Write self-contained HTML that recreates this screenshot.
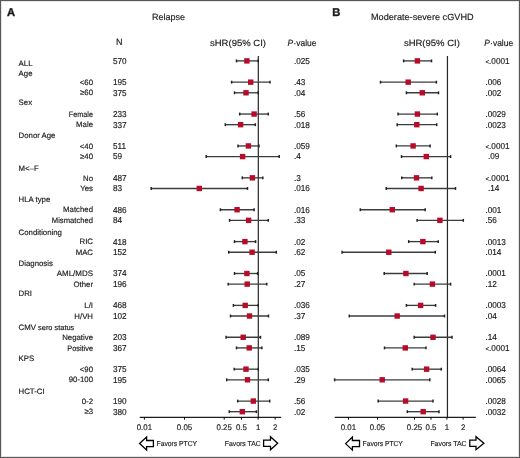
<!DOCTYPE html>
<html><head><meta charset="utf-8"><style>
html,body{margin:0;padding:0;background:#fff;}
body{width:520px;height:458px;overflow:hidden;}
.frame{position:absolute;left:0;top:0;width:518px;height:456px;border:1px solid #585858;box-shadow:inset 0 0 0 1px rgba(0,0,0,0.10);}
svg{position:absolute;left:0;top:0;filter:blur(0.3px);}
svg text{font-family:"Liberation Sans", sans-serif;fill:#1a1a1a;stroke:#1a1a1a;stroke-width:0.16px;text-rendering:geometricPrecision;}
</style></head><body>
<div class="frame"></div>
<svg width="520" height="458" viewBox="0 0 520 458">
<text x="18.60" y="65.78" font-size="7.8" text-anchor="start" font-weight="normal" >ALL</text>
<text x="112.90" y="63.80" font-size="8.6" text-anchor="start" font-weight="normal"  transform="matrix(0.955,0,0,1,5.081,0)">570</text>
<text x="18.60" y="75.51" font-size="7.8" text-anchor="start" font-weight="normal" >Age</text>
<text x="93.00" y="84.84" font-size="7.8" text-anchor="end" font-weight="normal" >&lt;60</text>
<text x="112.90" y="85.06" font-size="8.6" text-anchor="start" font-weight="normal"  transform="matrix(0.955,0,0,1,5.081,0)">195</text>
<text x="93.00" y="95.47" font-size="7.8" text-anchor="end" font-weight="normal" >≥60</text>
<text x="112.90" y="95.69" font-size="8.6" text-anchor="start" font-weight="normal"  transform="matrix(0.955,0,0,1,5.081,0)">375</text>
<text x="18.60" y="104.70" font-size="7.8" text-anchor="start" font-weight="normal" >Sex</text>
<text x="93.00" y="116.73" font-size="7.8" text-anchor="end" font-weight="normal"  transform="matrix(0.93,0,0,1,6.510,0)">Female</text>
<text x="112.90" y="116.95" font-size="8.6" text-anchor="start" font-weight="normal"  transform="matrix(0.955,0,0,1,5.081,0)">233</text>
<text x="93.00" y="127.36" font-size="7.8" text-anchor="end" font-weight="normal" >Male</text>
<text x="112.90" y="127.58" font-size="8.6" text-anchor="start" font-weight="normal"  transform="matrix(0.955,0,0,1,5.081,0)">337</text>
<text x="18.60" y="138.19" font-size="7.8" text-anchor="start" font-weight="normal" >Donor Age</text>
<text x="93.00" y="148.62" font-size="7.8" text-anchor="end" font-weight="normal" >&lt;40</text>
<text x="112.90" y="148.84" font-size="8.6" text-anchor="start" font-weight="normal"  transform="matrix(0.955,0,0,1,5.081,0)">511</text>
<text x="93.00" y="159.25" font-size="7.8" text-anchor="end" font-weight="normal" >≥40</text>
<text x="112.90" y="159.47" font-size="8.6" text-anchor="start" font-weight="normal"  transform="matrix(0.955,0,0,1,5.081,0)">59</text>
<text x="18.60" y="170.88" font-size="7.8" text-anchor="start" font-weight="normal" >M&lt;–F</text>
<text x="93.00" y="180.51" font-size="7.8" text-anchor="end" font-weight="normal" >No</text>
<text x="112.90" y="180.73" font-size="8.6" text-anchor="start" font-weight="normal"  transform="matrix(0.955,0,0,1,5.081,0)">487</text>
<text x="93.00" y="191.14" font-size="7.8" text-anchor="end" font-weight="normal" >Yes</text>
<text x="112.90" y="191.36" font-size="8.6" text-anchor="start" font-weight="normal"  transform="matrix(0.955,0,0,1,5.081,0)">83</text>
<text x="18.60" y="202.37" font-size="7.8" text-anchor="start" font-weight="normal" >HLA type</text>
<text x="93.00" y="212.40" font-size="7.8" text-anchor="end" font-weight="normal" >Matched</text>
<text x="112.90" y="212.62" font-size="8.6" text-anchor="start" font-weight="normal"  transform="matrix(0.955,0,0,1,5.081,0)">486</text>
<text x="93.00" y="223.03" font-size="7.8" text-anchor="end" font-weight="normal"  transform="matrix(0.98,0,0,1,1.860,0)">Mismatched</text>
<text x="112.90" y="223.25" font-size="8.6" text-anchor="start" font-weight="normal"  transform="matrix(0.955,0,0,1,5.081,0)">84</text>
<text x="18.60" y="234.66" font-size="7.8" text-anchor="start" font-weight="normal" >Conditioning</text>
<text x="93.00" y="244.29" font-size="7.8" text-anchor="end" font-weight="normal" >RIC</text>
<text x="112.90" y="244.51" font-size="8.6" text-anchor="start" font-weight="normal"  transform="matrix(0.955,0,0,1,5.081,0)">418</text>
<text x="93.00" y="254.92" font-size="7.8" text-anchor="end" font-weight="normal" >MAC</text>
<text x="112.90" y="255.14" font-size="8.6" text-anchor="start" font-weight="normal"  transform="matrix(0.955,0,0,1,5.081,0)">152</text>
<text x="18.60" y="265.85" font-size="7.8" text-anchor="start" font-weight="normal" >Diagnosis</text>
<text x="93.00" y="276.18" font-size="7.8" text-anchor="end" font-weight="normal"  transform="matrix(1.02,0,0,1,-1.860,0)">AML/MDS</text>
<text x="112.90" y="276.40" font-size="8.6" text-anchor="start" font-weight="normal"  transform="matrix(0.955,0,0,1,5.081,0)">374</text>
<text x="93.00" y="286.81" font-size="7.8" text-anchor="end" font-weight="normal" >Other</text>
<text x="112.90" y="287.03" font-size="8.6" text-anchor="start" font-weight="normal"  transform="matrix(0.955,0,0,1,5.081,0)">196</text>
<text x="18.60" y="296.04" font-size="7.8" text-anchor="start" font-weight="normal" >DRI</text>
<text x="93.00" y="308.07" font-size="7.8" text-anchor="end" font-weight="normal" >L/I</text>
<text x="112.90" y="308.29" font-size="8.6" text-anchor="start" font-weight="normal"  transform="matrix(0.955,0,0,1,5.081,0)">468</text>
<text x="93.00" y="318.70" font-size="7.8" text-anchor="end" font-weight="normal" >H/VH</text>
<text x="112.90" y="318.92" font-size="8.6" text-anchor="start" font-weight="normal"  transform="matrix(0.955,0,0,1,5.081,0)">102</text>
<text x="18.60" y="329.98" font-size="7.8" text-anchor="start" font-weight="normal" >CMV <tspan font-size="7.4">sero status</tspan></text>
<text x="93.00" y="339.96" font-size="7.8" text-anchor="end" font-weight="normal" >Negative</text>
<text x="112.90" y="340.18" font-size="8.6" text-anchor="start" font-weight="normal"  transform="matrix(0.955,0,0,1,5.081,0)">203</text>
<text x="93.00" y="350.59" font-size="7.8" text-anchor="end" font-weight="normal"  transform="matrix(0.94,0,0,1,5.580,0)">Positive</text>
<text x="112.90" y="350.81" font-size="8.6" text-anchor="start" font-weight="normal"  transform="matrix(0.955,0,0,1,5.081,0)">367</text>
<text x="18.60" y="360.92" font-size="7.8" text-anchor="start" font-weight="normal" >KPS</text>
<text x="93.00" y="371.85" font-size="7.8" text-anchor="end" font-weight="normal" >&lt;90</text>
<text x="112.90" y="372.07" font-size="8.6" text-anchor="start" font-weight="normal"  transform="matrix(0.955,0,0,1,5.081,0)">375</text>
<text x="93.00" y="382.48" font-size="7.8" text-anchor="end" font-weight="normal" >90-100</text>
<text x="112.90" y="382.70" font-size="8.6" text-anchor="start" font-weight="normal"  transform="matrix(0.955,0,0,1,5.081,0)">195</text>
<text x="18.60" y="393.61" font-size="7.8" text-anchor="start" font-weight="normal" >HCT-CI</text>
<text x="93.00" y="403.74" font-size="7.8" text-anchor="end" font-weight="normal" >0-2</text>
<text x="112.90" y="403.96" font-size="8.6" text-anchor="start" font-weight="normal"  transform="matrix(0.955,0,0,1,5.081,0)">190</text>
<text x="93.00" y="414.37" font-size="7.8" text-anchor="end" font-weight="normal" >≥3</text>
<text x="112.90" y="414.59" font-size="8.6" text-anchor="start" font-weight="normal"  transform="matrix(0.955,0,0,1,5.081,0)">380</text>
<line x1="258.3" y1="56" x2="258.3" y2="417.4" stroke="#262626" stroke-width="1.2"/>
<line x1="139.7" y1="417.4" x2="281.2" y2="417.4" stroke="#1e1e1e" stroke-width="1.3"/>
<line x1="144.4" y1="417.4" x2="144.4" y2="419.6" stroke="#000" stroke-width="1"/>
<text x="144.40" y="430.30" font-size="8.1" text-anchor="middle" font-weight="normal"  transform="matrix(0.97,0,0,1,4.332,0)">0.01</text>
<line x1="184.5" y1="417.4" x2="184.5" y2="419.6" stroke="#000" stroke-width="1"/>
<text x="184.50" y="430.30" font-size="8.1" text-anchor="middle" font-weight="normal"  transform="matrix(0.97,0,0,1,5.535,0)">0.05</text>
<line x1="224.2" y1="417.4" x2="224.2" y2="419.6" stroke="#000" stroke-width="1"/>
<text x="224.20" y="430.30" font-size="8.1" text-anchor="middle" font-weight="normal"  transform="matrix(0.97,0,0,1,6.726,0)">0.25</text>
<line x1="241.4" y1="417.4" x2="241.4" y2="419.6" stroke="#000" stroke-width="1"/>
<text x="241.40" y="430.30" font-size="8.1" text-anchor="middle" font-weight="normal"  transform="matrix(0.97,0,0,1,7.242,0)">0.5</text>
<line x1="258.1" y1="417.4" x2="258.1" y2="419.6" stroke="#000" stroke-width="1"/>
<text x="258.10" y="430.30" font-size="8.1" text-anchor="middle" font-weight="normal"  transform="matrix(0.97,0,0,1,7.743,0)">1</text>
<line x1="275.2" y1="417.4" x2="275.2" y2="419.6" stroke="#000" stroke-width="1"/>
<text x="275.20" y="430.30" font-size="8.1" text-anchor="middle" font-weight="normal"  transform="matrix(0.97,0,0,1,8.256,0)">2</text>
<line x1="447.45" y1="56" x2="447.45" y2="417.4" stroke="#262626" stroke-width="1.2"/>
<line x1="334.7" y1="417.4" x2="475.8" y2="417.4" stroke="#1e1e1e" stroke-width="1.3"/>
<line x1="348.4" y1="417.4" x2="348.4" y2="419.6" stroke="#000" stroke-width="1"/>
<text x="348.40" y="430.30" font-size="8.1" text-anchor="middle" font-weight="normal"  transform="matrix(0.97,0,0,1,10.452,0)">0.01</text>
<line x1="377.5" y1="417.4" x2="377.5" y2="419.6" stroke="#000" stroke-width="1"/>
<text x="377.50" y="430.30" font-size="8.1" text-anchor="middle" font-weight="normal"  transform="matrix(0.97,0,0,1,11.325,0)">0.05</text>
<line x1="414.5" y1="417.4" x2="414.5" y2="419.6" stroke="#000" stroke-width="1"/>
<text x="414.50" y="430.30" font-size="8.1" text-anchor="middle" font-weight="normal"  transform="matrix(0.97,0,0,1,12.435,0)">0.25</text>
<line x1="431.0" y1="417.4" x2="431.0" y2="419.6" stroke="#000" stroke-width="1"/>
<text x="431.00" y="430.30" font-size="8.1" text-anchor="middle" font-weight="normal"  transform="matrix(0.97,0,0,1,12.930,0)">0.5</text>
<line x1="446.9" y1="417.4" x2="446.9" y2="419.6" stroke="#000" stroke-width="1"/>
<text x="446.90" y="430.30" font-size="8.1" text-anchor="middle" font-weight="normal"  transform="matrix(0.97,0,0,1,13.407,0)">1</text>
<line x1="463.1" y1="417.4" x2="463.1" y2="419.6" stroke="#000" stroke-width="1"/>
<text x="463.10" y="430.30" font-size="8.1" text-anchor="middle" font-weight="normal"  transform="matrix(0.97,0,0,1,13.893,0)">2</text>
<line x1="236.50" y1="60.90" x2="258.20" y2="60.90" stroke="#3c3c3c" stroke-width="1.35"/>
<line x1="236.50" y1="59.45" x2="236.50" y2="62.35" stroke="#222" stroke-width="1.5"/>
<line x1="258.20" y1="59.45" x2="258.20" y2="62.35" stroke="#222" stroke-width="1.5"/>
<rect x="244.20" y="58.20" width="5.4" height="5.4" fill="#b70b29"/>
<text x="293.90" y="63.80" font-size="8.6" text-anchor="start" font-weight="normal"  transform="matrix(0.955,0,0,1,13.226,0)">.025</text>
<line x1="231.60" y1="82.16" x2="270.00" y2="82.16" stroke="#3c3c3c" stroke-width="1.35"/>
<line x1="231.60" y1="80.71" x2="231.60" y2="83.61" stroke="#222" stroke-width="1.5"/>
<line x1="270.00" y1="80.71" x2="270.00" y2="83.61" stroke="#222" stroke-width="1.5"/>
<rect x="248.00" y="79.46" width="5.4" height="5.4" fill="#b70b29"/>
<text x="293.90" y="85.06" font-size="8.6" text-anchor="start" font-weight="normal"  transform="matrix(0.955,0,0,1,13.226,0)">.43</text>
<line x1="234.50" y1="92.79" x2="258.20" y2="92.79" stroke="#3c3c3c" stroke-width="1.35"/>
<line x1="234.50" y1="91.34" x2="234.50" y2="94.24" stroke="#222" stroke-width="1.5"/>
<line x1="258.20" y1="91.34" x2="258.20" y2="94.24" stroke="#222" stroke-width="1.5"/>
<rect x="243.30" y="90.09" width="5.4" height="5.4" fill="#b70b29"/>
<text x="293.90" y="95.69" font-size="8.6" text-anchor="start" font-weight="normal"  transform="matrix(0.955,0,0,1,13.226,0)">.04</text>
<line x1="239.70" y1="114.05" x2="268.30" y2="114.05" stroke="#3c3c3c" stroke-width="1.35"/>
<line x1="239.70" y1="112.60" x2="239.70" y2="115.50" stroke="#222" stroke-width="1.5"/>
<line x1="268.30" y1="112.60" x2="268.30" y2="115.50" stroke="#222" stroke-width="1.5"/>
<rect x="251.40" y="111.35" width="5.4" height="5.4" fill="#b70b29"/>
<text x="293.90" y="116.95" font-size="8.6" text-anchor="start" font-weight="normal"  transform="matrix(0.955,0,0,1,13.226,0)">.56</text>
<line x1="225.30" y1="124.68" x2="255.30" y2="124.68" stroke="#3c3c3c" stroke-width="1.35"/>
<line x1="225.30" y1="123.23" x2="225.30" y2="126.13" stroke="#222" stroke-width="1.5"/>
<line x1="255.30" y1="123.23" x2="255.30" y2="126.13" stroke="#222" stroke-width="1.5"/>
<rect x="237.90" y="121.98" width="5.4" height="5.4" fill="#b70b29"/>
<text x="293.90" y="127.58" font-size="8.6" text-anchor="start" font-weight="normal"  transform="matrix(0.955,0,0,1,13.226,0)">.018</text>
<line x1="238.00" y1="145.94" x2="259.00" y2="145.94" stroke="#3c3c3c" stroke-width="1.35"/>
<line x1="238.00" y1="144.49" x2="238.00" y2="147.39" stroke="#222" stroke-width="1.5"/>
<line x1="259.00" y1="144.49" x2="259.00" y2="147.39" stroke="#222" stroke-width="1.5"/>
<rect x="245.70" y="143.24" width="5.4" height="5.4" fill="#b70b29"/>
<text x="293.90" y="148.84" font-size="8.6" text-anchor="start" font-weight="normal"  transform="matrix(0.955,0,0,1,13.226,0)">.059</text>
<line x1="206.20" y1="156.57" x2="279.20" y2="156.57" stroke="#3c3c3c" stroke-width="1.35"/>
<line x1="206.20" y1="155.12" x2="206.20" y2="158.02" stroke="#222" stroke-width="1.5"/>
<line x1="279.20" y1="155.12" x2="279.20" y2="158.02" stroke="#222" stroke-width="1.5"/>
<rect x="239.90" y="153.87" width="5.4" height="5.4" fill="#b70b29"/>
<text x="293.90" y="159.47" font-size="8.6" text-anchor="start" font-weight="normal"  transform="matrix(0.955,0,0,1,13.226,0)">.4</text>
<line x1="242.30" y1="177.83" x2="262.80" y2="177.83" stroke="#3c3c3c" stroke-width="1.35"/>
<line x1="242.30" y1="176.38" x2="242.30" y2="179.28" stroke="#222" stroke-width="1.5"/>
<line x1="262.80" y1="176.38" x2="262.80" y2="179.28" stroke="#222" stroke-width="1.5"/>
<rect x="249.70" y="175.13" width="5.4" height="5.4" fill="#b70b29"/>
<text x="293.90" y="180.73" font-size="8.6" text-anchor="start" font-weight="normal"  transform="matrix(0.955,0,0,1,13.226,0)">.3</text>
<line x1="151.20" y1="188.46" x2="247.50" y2="188.46" stroke="#3c3c3c" stroke-width="1.35"/>
<line x1="151.20" y1="187.01" x2="151.20" y2="189.91" stroke="#222" stroke-width="1.5"/>
<line x1="247.50" y1="187.01" x2="247.50" y2="189.91" stroke="#222" stroke-width="1.5"/>
<rect x="196.60" y="185.76" width="5.4" height="5.4" fill="#b70b29"/>
<text x="293.90" y="191.36" font-size="8.6" text-anchor="start" font-weight="normal"  transform="matrix(0.955,0,0,1,13.226,0)">.016</text>
<line x1="220.40" y1="209.72" x2="254.10" y2="209.72" stroke="#3c3c3c" stroke-width="1.35"/>
<line x1="220.40" y1="208.27" x2="220.40" y2="211.17" stroke="#222" stroke-width="1.5"/>
<line x1="254.10" y1="208.27" x2="254.10" y2="211.17" stroke="#222" stroke-width="1.5"/>
<rect x="234.40" y="207.02" width="5.4" height="5.4" fill="#b70b29"/>
<text x="293.90" y="212.62" font-size="8.6" text-anchor="start" font-weight="normal"  transform="matrix(0.955,0,0,1,13.226,0)">.016</text>
<line x1="229.60" y1="220.35" x2="268.30" y2="220.35" stroke="#3c3c3c" stroke-width="1.35"/>
<line x1="229.60" y1="218.90" x2="229.60" y2="221.80" stroke="#222" stroke-width="1.5"/>
<line x1="268.30" y1="218.90" x2="268.30" y2="221.80" stroke="#222" stroke-width="1.5"/>
<rect x="245.90" y="217.65" width="5.4" height="5.4" fill="#b70b29"/>
<text x="293.90" y="223.25" font-size="8.6" text-anchor="start" font-weight="normal"  transform="matrix(0.955,0,0,1,13.226,0)">.33</text>
<line x1="234.50" y1="241.61" x2="255.60" y2="241.61" stroke="#3c3c3c" stroke-width="1.35"/>
<line x1="234.50" y1="240.16" x2="234.50" y2="243.06" stroke="#222" stroke-width="1.5"/>
<line x1="255.60" y1="240.16" x2="255.60" y2="243.06" stroke="#222" stroke-width="1.5"/>
<rect x="242.20" y="238.91" width="5.4" height="5.4" fill="#b70b29"/>
<text x="293.90" y="244.51" font-size="8.6" text-anchor="start" font-weight="normal"  transform="matrix(0.955,0,0,1,13.226,0)">.02</text>
<line x1="228.70" y1="252.24" x2="276.30" y2="252.24" stroke="#3c3c3c" stroke-width="1.35"/>
<line x1="228.70" y1="250.79" x2="228.70" y2="253.69" stroke="#222" stroke-width="1.5"/>
<line x1="276.30" y1="250.79" x2="276.30" y2="253.69" stroke="#222" stroke-width="1.5"/>
<rect x="249.40" y="249.54" width="5.4" height="5.4" fill="#b70b29"/>
<text x="293.90" y="255.14" font-size="8.6" text-anchor="start" font-weight="normal"  transform="matrix(0.955,0,0,1,13.226,0)">.62</text>
<line x1="234.50" y1="273.50" x2="257.60" y2="273.50" stroke="#3c3c3c" stroke-width="1.35"/>
<line x1="234.50" y1="272.05" x2="234.50" y2="274.95" stroke="#222" stroke-width="1.5"/>
<line x1="257.60" y1="272.05" x2="257.60" y2="274.95" stroke="#222" stroke-width="1.5"/>
<rect x="244.20" y="270.80" width="5.4" height="5.4" fill="#b70b29"/>
<text x="293.90" y="276.40" font-size="8.6" text-anchor="start" font-weight="normal"  transform="matrix(0.955,0,0,1,13.226,0)">.05</text>
<line x1="228.20" y1="284.13" x2="266.80" y2="284.13" stroke="#3c3c3c" stroke-width="1.35"/>
<line x1="228.20" y1="282.68" x2="228.20" y2="285.58" stroke="#222" stroke-width="1.5"/>
<line x1="266.80" y1="282.68" x2="266.80" y2="285.58" stroke="#222" stroke-width="1.5"/>
<rect x="244.50" y="281.43" width="5.4" height="5.4" fill="#b70b29"/>
<text x="293.90" y="287.03" font-size="8.6" text-anchor="start" font-weight="normal"  transform="matrix(0.955,0,0,1,13.226,0)">.27</text>
<line x1="233.40" y1="305.39" x2="258.20" y2="305.39" stroke="#3c3c3c" stroke-width="1.35"/>
<line x1="233.40" y1="303.94" x2="233.40" y2="306.84" stroke="#222" stroke-width="1.5"/>
<line x1="258.20" y1="303.94" x2="258.20" y2="306.84" stroke="#222" stroke-width="1.5"/>
<rect x="242.50" y="302.69" width="5.4" height="5.4" fill="#b70b29"/>
<text x="293.90" y="308.29" font-size="8.6" text-anchor="start" font-weight="normal"  transform="matrix(0.955,0,0,1,13.226,0)">.036</text>
<line x1="230.50" y1="316.02" x2="268.50" y2="316.02" stroke="#3c3c3c" stroke-width="1.35"/>
<line x1="230.50" y1="314.57" x2="230.50" y2="317.47" stroke="#222" stroke-width="1.5"/>
<line x1="268.50" y1="314.57" x2="268.50" y2="317.47" stroke="#222" stroke-width="1.5"/>
<rect x="246.80" y="313.32" width="5.4" height="5.4" fill="#b70b29"/>
<text x="293.90" y="318.92" font-size="8.6" text-anchor="start" font-weight="normal"  transform="matrix(0.955,0,0,1,13.226,0)">.37</text>
<line x1="226.10" y1="337.28" x2="260.50" y2="337.28" stroke="#3c3c3c" stroke-width="1.35"/>
<line x1="226.10" y1="335.83" x2="226.10" y2="338.73" stroke="#222" stroke-width="1.5"/>
<line x1="260.50" y1="335.83" x2="260.50" y2="338.73" stroke="#222" stroke-width="1.5"/>
<rect x="240.50" y="334.58" width="5.4" height="5.4" fill="#b70b29"/>
<text x="293.90" y="340.18" font-size="8.6" text-anchor="start" font-weight="normal"  transform="matrix(0.955,0,0,1,13.226,0)">.089</text>
<line x1="236.50" y1="347.91" x2="261.90" y2="347.91" stroke="#3c3c3c" stroke-width="1.35"/>
<line x1="236.50" y1="346.46" x2="236.50" y2="349.36" stroke="#222" stroke-width="1.5"/>
<line x1="261.90" y1="346.46" x2="261.90" y2="349.36" stroke="#222" stroke-width="1.5"/>
<rect x="246.50" y="345.21" width="5.4" height="5.4" fill="#b70b29"/>
<text x="293.90" y="350.81" font-size="8.6" text-anchor="start" font-weight="normal"  transform="matrix(0.955,0,0,1,13.226,0)">.15</text>
<line x1="234.20" y1="369.17" x2="258.20" y2="369.17" stroke="#3c3c3c" stroke-width="1.35"/>
<line x1="234.20" y1="367.72" x2="234.20" y2="370.62" stroke="#222" stroke-width="1.5"/>
<line x1="258.20" y1="367.72" x2="258.20" y2="370.62" stroke="#222" stroke-width="1.5"/>
<rect x="243.30" y="366.47" width="5.4" height="5.4" fill="#b70b29"/>
<text x="293.90" y="372.07" font-size="8.6" text-anchor="start" font-weight="normal"  transform="matrix(0.955,0,0,1,13.226,0)">.035</text>
<line x1="226.70" y1="379.80" x2="268.30" y2="379.80" stroke="#3c3c3c" stroke-width="1.35"/>
<line x1="226.70" y1="378.35" x2="226.70" y2="381.25" stroke="#222" stroke-width="1.5"/>
<line x1="268.30" y1="378.35" x2="268.30" y2="381.25" stroke="#222" stroke-width="1.5"/>
<rect x="244.80" y="377.10" width="5.4" height="5.4" fill="#b70b29"/>
<text x="293.90" y="382.70" font-size="8.6" text-anchor="start" font-weight="normal"  transform="matrix(0.955,0,0,1,13.226,0)">.29</text>
<line x1="237.70" y1="401.06" x2="269.70" y2="401.06" stroke="#3c3c3c" stroke-width="1.35"/>
<line x1="237.70" y1="399.61" x2="237.70" y2="402.51" stroke="#222" stroke-width="1.5"/>
<line x1="269.70" y1="399.61" x2="269.70" y2="402.51" stroke="#222" stroke-width="1.5"/>
<rect x="250.60" y="398.36" width="5.4" height="5.4" fill="#b70b29"/>
<text x="293.90" y="403.96" font-size="8.6" text-anchor="start" font-weight="normal"  transform="matrix(0.955,0,0,1,13.226,0)">.56</text>
<line x1="229.30" y1="411.69" x2="256.40" y2="411.69" stroke="#3c3c3c" stroke-width="1.35"/>
<line x1="229.30" y1="410.24" x2="229.30" y2="413.14" stroke="#222" stroke-width="1.5"/>
<line x1="256.40" y1="410.24" x2="256.40" y2="413.14" stroke="#222" stroke-width="1.5"/>
<rect x="239.60" y="408.99" width="5.4" height="5.4" fill="#b70b29"/>
<text x="293.90" y="414.59" font-size="8.6" text-anchor="start" font-weight="normal"  transform="matrix(0.955,0,0,1,13.226,0)">.02</text>
<line x1="403.60" y1="60.90" x2="431.50" y2="60.90" stroke="#3c3c3c" stroke-width="1.35"/>
<line x1="403.60" y1="59.45" x2="403.60" y2="62.35" stroke="#222" stroke-width="1.5"/>
<line x1="431.50" y1="59.45" x2="431.50" y2="62.35" stroke="#222" stroke-width="1.5"/>
<rect x="414.70" y="58.20" width="5.4" height="5.4" fill="#b70b29"/>
<text x="485.40" y="63.80" font-size="8.6" text-anchor="start" font-weight="normal"  transform="matrix(0.955,0,0,1,21.843,0)"><tspan font-size="6.6">&lt;</tspan>.0001</text>
<line x1="380.50" y1="82.16" x2="436.40" y2="82.16" stroke="#3c3c3c" stroke-width="1.35"/>
<line x1="380.50" y1="80.71" x2="380.50" y2="83.61" stroke="#222" stroke-width="1.5"/>
<line x1="436.40" y1="80.71" x2="436.40" y2="83.61" stroke="#222" stroke-width="1.5"/>
<rect x="405.50" y="79.46" width="5.4" height="5.4" fill="#b70b29"/>
<text x="485.40" y="85.06" font-size="8.6" text-anchor="start" font-weight="normal"  transform="matrix(0.955,0,0,1,21.843,0)">.006</text>
<line x1="406.40" y1="92.79" x2="438.50" y2="92.79" stroke="#3c3c3c" stroke-width="1.35"/>
<line x1="406.40" y1="91.34" x2="406.40" y2="94.24" stroke="#222" stroke-width="1.5"/>
<line x1="438.50" y1="91.34" x2="438.50" y2="94.24" stroke="#222" stroke-width="1.5"/>
<rect x="419.60" y="90.09" width="5.4" height="5.4" fill="#b70b29"/>
<text x="485.40" y="95.69" font-size="8.6" text-anchor="start" font-weight="normal"  transform="matrix(0.955,0,0,1,21.843,0)">.002</text>
<line x1="398.10" y1="114.05" x2="437.30" y2="114.05" stroke="#3c3c3c" stroke-width="1.35"/>
<line x1="398.10" y1="112.60" x2="398.10" y2="115.50" stroke="#222" stroke-width="1.5"/>
<line x1="437.30" y1="112.60" x2="437.30" y2="115.50" stroke="#222" stroke-width="1.5"/>
<rect x="414.70" y="111.35" width="5.4" height="5.4" fill="#b70b29"/>
<text x="485.40" y="116.95" font-size="8.6" text-anchor="start" font-weight="normal"  transform="matrix(0.955,0,0,1,21.843,0)">.0029</text>
<line x1="397.20" y1="124.68" x2="436.70" y2="124.68" stroke="#3c3c3c" stroke-width="1.35"/>
<line x1="397.20" y1="123.23" x2="397.20" y2="126.13" stroke="#222" stroke-width="1.5"/>
<line x1="436.70" y1="123.23" x2="436.70" y2="126.13" stroke="#222" stroke-width="1.5"/>
<rect x="414.10" y="121.98" width="5.4" height="5.4" fill="#b70b29"/>
<text x="485.40" y="127.58" font-size="8.6" text-anchor="start" font-weight="normal"  transform="matrix(0.955,0,0,1,21.843,0)">.0023</text>
<line x1="396.30" y1="145.94" x2="430.10" y2="145.94" stroke="#3c3c3c" stroke-width="1.35"/>
<line x1="396.30" y1="144.49" x2="396.30" y2="147.39" stroke="#222" stroke-width="1.5"/>
<line x1="430.10" y1="144.49" x2="430.10" y2="147.39" stroke="#222" stroke-width="1.5"/>
<rect x="410.40" y="143.24" width="5.4" height="5.4" fill="#b70b29"/>
<text x="485.40" y="148.84" font-size="8.6" text-anchor="start" font-weight="normal"  transform="matrix(0.955,0,0,1,21.843,0)"><tspan font-size="6.6">&lt;</tspan>.0001</text>
<line x1="401.50" y1="156.57" x2="450.60" y2="156.57" stroke="#3c3c3c" stroke-width="1.35"/>
<line x1="401.50" y1="155.12" x2="401.50" y2="158.02" stroke="#222" stroke-width="1.5"/>
<line x1="450.60" y1="155.12" x2="450.60" y2="158.02" stroke="#222" stroke-width="1.5"/>
<rect x="423.60" y="153.87" width="5.4" height="5.4" fill="#b70b29"/>
<text x="487.90" y="159.47" font-size="8.6" text-anchor="start" font-weight="normal"  transform="matrix(0.955,0,0,1,21.956,0)">.09</text>
<line x1="401.80" y1="177.83" x2="431.80" y2="177.83" stroke="#3c3c3c" stroke-width="1.35"/>
<line x1="401.80" y1="176.38" x2="401.80" y2="179.28" stroke="#222" stroke-width="1.5"/>
<line x1="431.80" y1="176.38" x2="431.80" y2="179.28" stroke="#222" stroke-width="1.5"/>
<rect x="413.80" y="175.13" width="5.4" height="5.4" fill="#b70b29"/>
<text x="485.40" y="180.73" font-size="8.6" text-anchor="start" font-weight="normal"  transform="matrix(0.955,0,0,1,21.843,0)"><tspan font-size="6.6">&lt;</tspan>.0001</text>
<line x1="386.20" y1="188.46" x2="455.50" y2="188.46" stroke="#3c3c3c" stroke-width="1.35"/>
<line x1="386.20" y1="187.01" x2="386.20" y2="189.91" stroke="#222" stroke-width="1.5"/>
<line x1="455.50" y1="187.01" x2="455.50" y2="189.91" stroke="#222" stroke-width="1.5"/>
<rect x="418.40" y="185.76" width="5.4" height="5.4" fill="#b70b29"/>
<text x="487.90" y="191.36" font-size="8.6" text-anchor="start" font-weight="normal"  transform="matrix(0.955,0,0,1,21.956,0)">.14</text>
<line x1="360.30" y1="209.72" x2="425.20" y2="209.72" stroke="#3c3c3c" stroke-width="1.35"/>
<line x1="360.30" y1="208.27" x2="360.30" y2="211.17" stroke="#222" stroke-width="1.5"/>
<line x1="425.20" y1="208.27" x2="425.20" y2="211.17" stroke="#222" stroke-width="1.5"/>
<rect x="389.60" y="207.02" width="5.4" height="5.4" fill="#b70b29"/>
<text x="485.40" y="212.62" font-size="8.6" text-anchor="start" font-weight="normal"  transform="matrix(0.955,0,0,1,21.843,0)">.001</text>
<line x1="417.10" y1="220.35" x2="463.30" y2="220.35" stroke="#3c3c3c" stroke-width="1.35"/>
<line x1="417.10" y1="218.90" x2="417.10" y2="221.80" stroke="#222" stroke-width="1.5"/>
<line x1="463.30" y1="218.90" x2="463.30" y2="221.80" stroke="#222" stroke-width="1.5"/>
<rect x="437.20" y="217.65" width="5.4" height="5.4" fill="#b70b29"/>
<text x="485.40" y="223.25" font-size="8.6" text-anchor="start" font-weight="normal"  transform="matrix(0.955,0,0,1,21.843,0)">.56</text>
<line x1="408.70" y1="241.61" x2="438.20" y2="241.61" stroke="#3c3c3c" stroke-width="1.35"/>
<line x1="408.70" y1="240.16" x2="408.70" y2="243.06" stroke="#222" stroke-width="1.5"/>
<line x1="438.20" y1="240.16" x2="438.20" y2="243.06" stroke="#222" stroke-width="1.5"/>
<rect x="420.20" y="238.91" width="5.4" height="5.4" fill="#b70b29"/>
<text x="485.40" y="244.51" font-size="8.6" text-anchor="start" font-weight="normal"  transform="matrix(0.955,0,0,1,21.843,0)">.0013</text>
<line x1="342.10" y1="252.24" x2="435.30" y2="252.24" stroke="#3c3c3c" stroke-width="1.35"/>
<line x1="342.10" y1="250.79" x2="342.10" y2="253.69" stroke="#222" stroke-width="1.5"/>
<line x1="435.30" y1="250.79" x2="435.30" y2="253.69" stroke="#222" stroke-width="1.5"/>
<rect x="386.10" y="249.54" width="5.4" height="5.4" fill="#b70b29"/>
<text x="485.40" y="255.14" font-size="8.6" text-anchor="start" font-weight="normal"  transform="matrix(0.955,0,0,1,21.843,0)">.014</text>
<line x1="384.20" y1="273.50" x2="427.20" y2="273.50" stroke="#3c3c3c" stroke-width="1.35"/>
<line x1="384.20" y1="272.05" x2="384.20" y2="274.95" stroke="#222" stroke-width="1.5"/>
<line x1="427.20" y1="272.05" x2="427.20" y2="274.95" stroke="#222" stroke-width="1.5"/>
<rect x="403.20" y="270.80" width="5.4" height="5.4" fill="#b70b29"/>
<text x="485.40" y="276.40" font-size="8.6" text-anchor="start" font-weight="normal"  transform="matrix(0.955,0,0,1,21.843,0)">.0001</text>
<line x1="414.20" y1="284.13" x2="450.60" y2="284.13" stroke="#3c3c3c" stroke-width="1.35"/>
<line x1="414.20" y1="282.68" x2="414.20" y2="285.58" stroke="#222" stroke-width="1.5"/>
<line x1="450.60" y1="282.68" x2="450.60" y2="285.58" stroke="#222" stroke-width="1.5"/>
<rect x="429.70" y="281.43" width="5.4" height="5.4" fill="#b70b29"/>
<text x="485.40" y="287.03" font-size="8.6" text-anchor="start" font-weight="normal"  transform="matrix(0.955,0,0,1,21.843,0)">.12</text>
<line x1="406.40" y1="305.39" x2="435.60" y2="305.39" stroke="#3c3c3c" stroke-width="1.35"/>
<line x1="406.40" y1="303.94" x2="406.40" y2="306.84" stroke="#222" stroke-width="1.5"/>
<line x1="435.60" y1="303.94" x2="435.60" y2="306.84" stroke="#222" stroke-width="1.5"/>
<rect x="417.90" y="302.69" width="5.4" height="5.4" fill="#b70b29"/>
<text x="485.40" y="308.29" font-size="8.6" text-anchor="start" font-weight="normal"  transform="matrix(0.955,0,0,1,21.843,0)">.0003</text>
<line x1="349.30" y1="316.02" x2="444.50" y2="316.02" stroke="#3c3c3c" stroke-width="1.35"/>
<line x1="349.30" y1="314.57" x2="349.30" y2="317.47" stroke="#222" stroke-width="1.5"/>
<line x1="444.50" y1="314.57" x2="444.50" y2="317.47" stroke="#222" stroke-width="1.5"/>
<rect x="394.50" y="313.32" width="5.4" height="5.4" fill="#b70b29"/>
<text x="485.40" y="318.92" font-size="8.6" text-anchor="start" font-weight="normal"  transform="matrix(0.955,0,0,1,21.843,0)">.04</text>
<line x1="414.20" y1="337.28" x2="452.00" y2="337.28" stroke="#3c3c3c" stroke-width="1.35"/>
<line x1="414.20" y1="335.83" x2="414.20" y2="338.73" stroke="#222" stroke-width="1.5"/>
<line x1="452.00" y1="335.83" x2="452.00" y2="338.73" stroke="#222" stroke-width="1.5"/>
<rect x="430.30" y="334.58" width="5.4" height="5.4" fill="#b70b29"/>
<text x="485.40" y="340.18" font-size="8.6" text-anchor="start" font-weight="normal"  transform="matrix(0.955,0,0,1,21.843,0)">.14</text>
<line x1="384.50" y1="347.91" x2="426.00" y2="347.91" stroke="#3c3c3c" stroke-width="1.35"/>
<line x1="384.50" y1="346.46" x2="384.50" y2="349.36" stroke="#222" stroke-width="1.5"/>
<line x1="426.00" y1="346.46" x2="426.00" y2="349.36" stroke="#222" stroke-width="1.5"/>
<rect x="402.60" y="345.21" width="5.4" height="5.4" fill="#b70b29"/>
<text x="485.40" y="350.81" font-size="8.6" text-anchor="start" font-weight="normal"  transform="matrix(0.955,0,0,1,21.843,0)"><tspan font-size="6.6">&lt;</tspan>.0001</text>
<line x1="412.20" y1="369.17" x2="441.30" y2="369.17" stroke="#3c3c3c" stroke-width="1.35"/>
<line x1="412.20" y1="367.72" x2="412.20" y2="370.62" stroke="#222" stroke-width="1.5"/>
<line x1="441.30" y1="367.72" x2="441.30" y2="370.62" stroke="#222" stroke-width="1.5"/>
<rect x="423.90" y="366.47" width="5.4" height="5.4" fill="#b70b29"/>
<text x="485.40" y="372.07" font-size="8.6" text-anchor="start" font-weight="normal"  transform="matrix(0.955,0,0,1,21.843,0)">.0064</text>
<line x1="334.60" y1="379.80" x2="429.80" y2="379.80" stroke="#3c3c3c" stroke-width="1.35"/>
<line x1="334.60" y1="378.35" x2="334.60" y2="381.25" stroke="#222" stroke-width="1.5"/>
<line x1="429.80" y1="378.35" x2="429.80" y2="381.25" stroke="#222" stroke-width="1.5"/>
<rect x="379.50" y="377.10" width="5.4" height="5.4" fill="#b70b29"/>
<text x="485.40" y="382.70" font-size="8.6" text-anchor="start" font-weight="normal"  transform="matrix(0.955,0,0,1,21.843,0)">.0065</text>
<line x1="378.20" y1="401.06" x2="433.00" y2="401.06" stroke="#3c3c3c" stroke-width="1.35"/>
<line x1="378.20" y1="399.61" x2="378.20" y2="402.51" stroke="#222" stroke-width="1.5"/>
<line x1="433.00" y1="399.61" x2="433.00" y2="402.51" stroke="#222" stroke-width="1.5"/>
<rect x="402.90" y="398.36" width="5.4" height="5.4" fill="#b70b29"/>
<text x="485.40" y="403.96" font-size="8.6" text-anchor="start" font-weight="normal"  transform="matrix(0.955,0,0,1,21.843,0)">.0028</text>
<line x1="407.30" y1="411.69" x2="439.00" y2="411.69" stroke="#3c3c3c" stroke-width="1.35"/>
<line x1="407.30" y1="410.24" x2="407.30" y2="413.14" stroke="#222" stroke-width="1.5"/>
<line x1="439.00" y1="410.24" x2="439.00" y2="413.14" stroke="#222" stroke-width="1.5"/>
<rect x="420.50" y="408.99" width="5.4" height="5.4" fill="#b70b29"/>
<text x="485.40" y="414.59" font-size="8.6" text-anchor="start" font-weight="normal"  transform="matrix(0.955,0,0,1,21.843,0)">.0032</text>
<text x="7.00" y="15.80" font-size="11.2" text-anchor="start" font-weight="bold" style="stroke-width:0.4px">A</text>
<text x="332.20" y="15.80" font-size="11.2" text-anchor="start" font-weight="bold" style="stroke-width:0.4px">B</text>
<text x="152.00" y="20.00" font-size="9.0" text-anchor="start" font-weight="normal" >Relapse</text>
<text x="371.00" y="20.00" font-size="9.0" text-anchor="start" font-weight="normal"  textLength="102.6" lengthAdjust="spacingAndGlyphs">Moderate-severe cGVHD</text>
<text x="115.90" y="45.30" font-size="9.0" text-anchor="start" font-weight="normal" >N</text>
<text x="210.00" y="45.80" font-size="9.0" text-anchor="start" font-weight="normal"  textLength="56.0" lengthAdjust="spacingAndGlyphs">sHR(95% CI)</text>
<text x="287.5" y="45.6" font-size="9.0" textLength="28.9" lengthAdjust="spacingAndGlyphs"><tspan font-style="italic">P</tspan><tspan dx="0.3">·</tspan>value</text>
<text x="403.90" y="45.80" font-size="9.0" text-anchor="start" font-weight="normal"  textLength="56.0" lengthAdjust="spacingAndGlyphs">sHR(95% CI)</text>
<text x="484.2" y="45.6" font-size="9.0" textLength="28.9" lengthAdjust="spacingAndGlyphs"><tspan font-style="italic">P</tspan><tspan dx="0.3">·</tspan>value</text>
<polygon points="139.60,443.60 146.60,437.10 146.60,440.50 153.40,440.50 153.40,446.70 146.60,446.70 146.60,450.10" fill="none" stroke="#000" stroke-width="1.3" stroke-linejoin="miter"/>
<polygon points="277.70,443.20 270.50,436.70 270.50,440.10 263.60,440.10 263.60,446.30 270.50,446.30 270.50,449.70" fill="none" stroke="#000" stroke-width="1.3" stroke-linejoin="miter"/>
<polygon points="345.60,443.60 352.40,437.10 352.40,440.50 359.50,440.50 359.50,446.70 352.40,446.70 352.40,450.10" fill="none" stroke="#000" stroke-width="1.3" stroke-linejoin="miter"/>
<polygon points="483.90,443.20 476.00,436.70 476.00,440.10 469.80,440.10 469.80,446.30 476.00,446.30 476.00,449.70" fill="none" stroke="#000" stroke-width="1.3" stroke-linejoin="miter"/>
<text x="156.50" y="446.00" font-size="7.2" text-anchor="start" font-weight="normal"  textLength="40.6" lengthAdjust="spacingAndGlyphs">Favors PTCY</text>
<text x="224.70" y="446.00" font-size="7.2" text-anchor="start" font-weight="normal"  textLength="36.0" lengthAdjust="spacingAndGlyphs">Favors TAC</text>
<text x="362.60" y="446.00" font-size="7.2" text-anchor="start" font-weight="normal"  textLength="40.2" lengthAdjust="spacingAndGlyphs">Favors PTCY</text>
<text x="430.40" y="446.00" font-size="7.2" text-anchor="start" font-weight="normal"  textLength="36.2" lengthAdjust="spacingAndGlyphs">Favors TAC</text>
</svg>
</body></html>
